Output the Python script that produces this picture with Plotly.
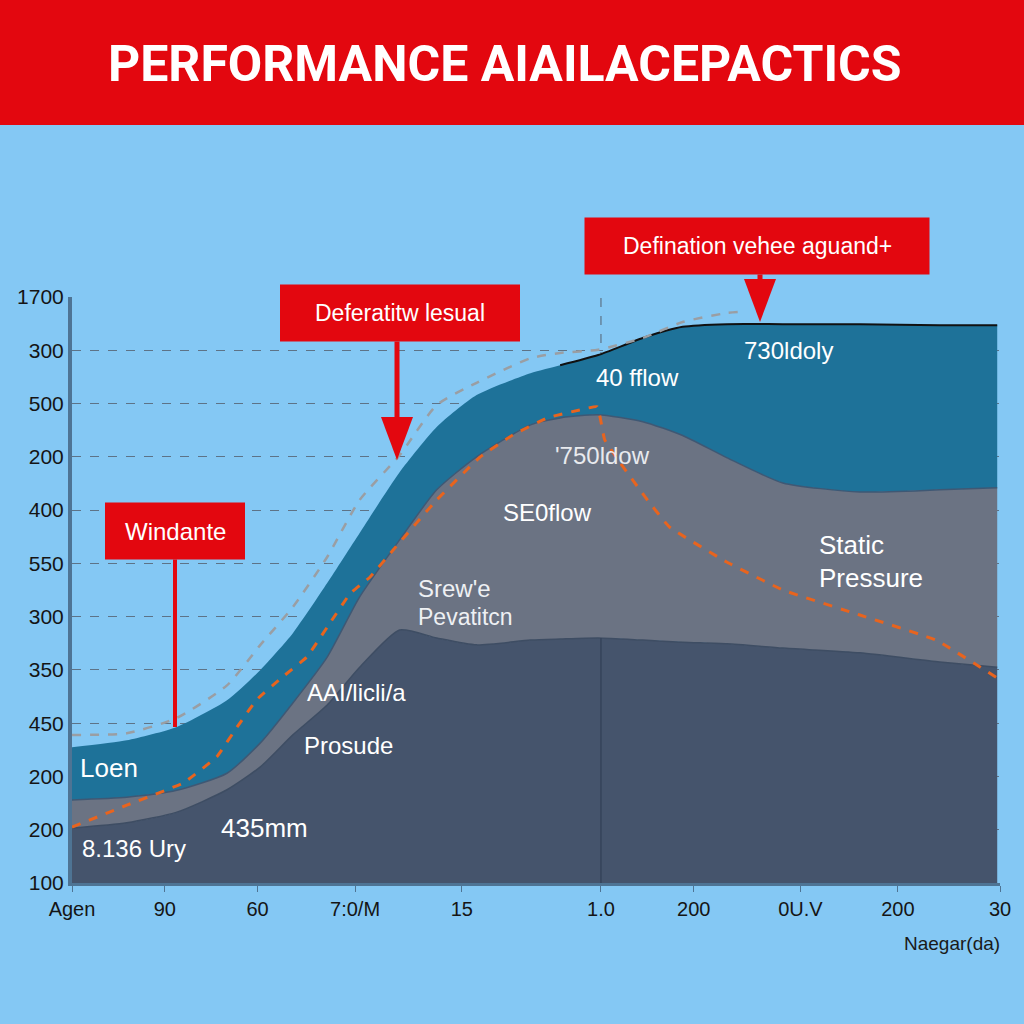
import plotly.graph_objects as go

# ---------------- data (axis units) ----------------
y_tick_pos = [0, 1, 2, 3, 4, 5, 6, 7, 8, 9, 10, 11]
y_tick_text = ["100", "200", "200", "450", "350", "300", "550", "400", "200", "500", "300", "1700"]

x_tick_pos = [0, 1.0, 2.0, 3.05, 4.2, 5.7, 6.7, 7.85, 8.9, 10]
x_tick_text = ["Agen", "90", "60", "7:0/M", "15", "1.0", "200", "0U.V", "200", "30"]

x_area = [0, 0.59, 1.13, 1.67, 2.03, 2.38, 2.75, 3.10, 3.53, 3.93, 4.36,
          4.94, 5.26, 5.67, 6.15, 6.58, 7.06, 7.66, 8.49, 9.35, 9.97]
navy_top = [1.03, 1.13, 1.33, 1.75, 2.18, 2.78, 3.34, 4.05, 4.75, 4.60, 4.47,
            4.56, 4.58, 4.60, 4.56, 4.52, 4.49, 4.41, 4.32, 4.15, 4.05]
gray_top = [1.56, 1.61, 1.74, 2.06, 2.63, 3.38, 4.24, 5.37, 6.44, 7.38, 8.00,
            8.60, 8.73, 8.79, 8.66, 8.40, 7.98, 7.51, 7.34, 7.38, 7.42]
teal_top = [2.55, 2.68, 2.93, 3.43, 4.00, 4.69, 5.63, 6.57, 7.71, 8.56, 9.16,
            9.57, 9.72, 9.91, 10.23, 10.44, 10.49, 10.49, 10.49, 10.47, 10.47]

x_gray_dash = [0, 0.59, 1.13, 1.67, 2.03, 2.38, 2.75, 3.10, 3.53, 3.93, 4.36,
               4.94, 5.26, 5.67, 6.15, 6.58, 7.06, 7.2]
gray_dash = [2.78, 2.81, 3.10, 3.71, 4.47, 5.18, 6.12, 7.19, 8.03, 8.97, 9.39,
             9.85, 9.95, 10.01, 10.23, 10.53, 10.70, 10.72]

x_orange = [0, 0.59, 1.20, 1.56, 1.78, 1.99, 2.27, 2.53, 2.78, 3.00, 3.21, 3.46,
            3.93, 4.40, 4.75, 5.12, 5.47, 5.66, 5.74, 5.91, 6.20, 6.44, 7.05,
            7.66, 8.49, 9.31, 9.97]
orange = [1.05, 1.46, 1.88, 2.37, 2.93, 3.44, 3.87, 4.24, 4.88, 5.44, 5.74, 6.25,
          7.19, 8.00, 8.41, 8.73, 8.88, 8.94, 8.32, 7.88, 7.19, 6.68, 6.03,
          5.50, 5.03, 4.56, 3.85]

# ---------------- styling ----------------
BG = "#84C8F4"
RED = "#E3070F"
NAVY = "#45546C"
GRAY = "#6B7383"
TEAL = "#1E7299"
ORANGE = "#E8641E"
FONT = "Liberation Sans, Arial, sans-serif"

L, R, T, B = 72, 1000, 297, 883   # plot area in pixels


def pxx(p):
    return (p - L) / (R - L)


def pxy(p):
    return (B - p) / (B - T)


fig = go.Figure()

fig.add_trace(go.Scatter(x=x_area, y=navy_top, mode="lines", line=dict(width=0, shape="spline", smoothing=0.6),
                         fill="tozeroy", fillcolor=NAVY, hoverinfo="skip"))
fig.add_trace(go.Scatter(x=x_area, y=gray_top, mode="lines", line=dict(width=0, shape="spline", smoothing=0.6),
                         fill="tonexty", fillcolor=GRAY, hoverinfo="skip"))
fig.add_trace(go.Scatter(x=x_area, y=teal_top, mode="lines", line=dict(width=0, shape="spline", smoothing=0.6),
                         fill="tonexty", fillcolor=TEAL, hoverinfo="skip"))
# thin outline between layers
fig.add_trace(go.Scatter(x=x_area, y=navy_top, mode="lines",
                         line=dict(width=1.5, color="#3E4D63", shape="spline", smoothing=0.6), hoverinfo="skip"))
fig.add_trace(go.Scatter(x=x_area, y=gray_top, mode="lines",
                         line=dict(width=1.5, color="#3F5874", shape="spline", smoothing=0.6), hoverinfo="skip"))
# black top outline on the right part
k0 = 12
fig.add_trace(go.Scatter(x=x_area[k0:], y=teal_top[k0:], mode="lines",
                         line=dict(width=2, color="#111111", shape="spline", smoothing=0.6), hoverinfo="skip"))
# dashed lines
fig.add_trace(go.Scatter(x=x_gray_dash, y=gray_dash, mode="lines",
                         line=dict(width=2.5, color="#9A9EA3", dash="dash", shape="spline", smoothing=0.6),
                         hoverinfo="skip"))
fig.add_trace(go.Scatter(x=x_orange, y=orange, mode="lines",
                         line=dict(width=3, color=ORANGE, dash="dash", shape="spline", smoothing=0.3),
                         hoverinfo="skip"))

shapes = []
# title bar
shapes.append(dict(type="rect", xref="paper", yref="paper", x0=pxx(0), x1=pxx(1024), y0=pxy(125), y1=pxy(0),
                   fillcolor=RED, line=dict(width=0), layer="above"))
# vertical divider at "1.0"
xd = x_tick_pos[5]
shapes.append(dict(type="line", xref="x", yref="y", x0=xd, x1=xd, y0=0, y1=navy_top[13],
                   line=dict(color="#35445A", width=1.5), layer="above"))
shapes.append(dict(type="line", xref="x", yref="paper", x0=xd, x1=xd, y0=0, y1=1,
                   line=dict(color="#5D7387", width=1.2, dash="dash"), layer="below"))


def callout(cx, cy, w, h, text, size, line_to, arrow=True, ax=None):
    ax = cx if ax is None else ax
    top_line = cy + h / 2
    tip = line_to
    if arrow:
        head_top = tip - 43
        shapes.append(dict(type="line", xref="paper", yref="paper", x0=pxx(ax), x1=pxx(ax),
                           y0=pxy(top_line), y1=pxy(head_top), line=dict(color=RED, width=5), layer="above"))
        path = "M {:.5f} {:.5f} L {:.5f} {:.5f} L {:.5f} {:.5f} Z".format(
            pxx(ax - 16), pxy(head_top), pxx(ax + 16), pxy(head_top), pxx(ax), pxy(tip))
        shapes.append(dict(type="path", xref="paper", yref="paper", path=path, fillcolor=RED,
                           line=dict(width=0), layer="above"))
    else:
        shapes.append(dict(type="line", xref="paper", yref="paper", x0=pxx(ax), x1=pxx(ax),
                           y0=pxy(top_line), y1=pxy(tip), line=dict(color=RED, width=4), layer="above"))
    path = "M {:.5f} {:.5f} L {:.5f} {:.5f} L {:.5f} {:.5f} L {:.5f} {:.5f} Z".format(
        pxx(cx - w / 2), pxy(cy - h / 2), pxx(cx + w / 2), pxy(cy - h / 2),
        pxx(cx + w / 2), pxy(cy + h / 2), pxx(cx - w / 2), pxy(cy + h / 2))
    shapes.append(dict(type="path", xref="paper", yref="paper", path=path, fillcolor=RED,
                       line=dict(width=0), layer="above"))
    return dict(x=pxx(cx), y=pxy(cy), xref="paper", yref="paper", text=text, showarrow=False,
                font=dict(family=FONT, size=size, color="white"), xanchor="center", yanchor="middle")


annotations = []
annotations.append(callout(757, 246, 345, 57, "Defination vehee aguand+", 23, 322, True, 760))
annotations.append(callout(400, 313, 240, 57, "Deferatitw lesual", 23, 460, True, 397))
annotations.append(callout(175, 531, 140, 57, "Windante", 24, 727, False, 175))

# title
annotations.append(dict(x=pxx(505), y=pxy(64), xref="paper", yref="paper", text="<b>PERFORMANCE AIAILACEPACTICS</b>",
                        showarrow=False, font=dict(family="Roboto, Arial, sans-serif", size=50, color="white"),
                        xanchor="center", yanchor="middle"))

labels = [
    (788, 350, "730ldoly", 24, "white", "center"),
    (637, 377, "40 fflow", 24, "white", "center"),
    (602, 455, "'750ldow", 24, "#E8EAEE", "center"),
    (547, 512, "SE0flow", 24, "white", "center"),
    (817, 545, "Static", 26, "white", "left"),
    (817, 578, "Pressure", 26, "white", "left"),
    (416, 588, "Srew'e", 24, "#EEF0F3", "left"),
    (416, 617, "Pevatitcn", 23, "#EEF0F3", "left"),
    (305, 692, "AAI/licli/a", 24, "white", "left"),
    (302, 745, "Prosude", 24, "white", "left"),
    (78, 768, "Loen", 26, "white", "left"),
    (219, 828, "435mm", 26, "white", "left"),
    (80, 848, "8.136 Ury", 24, "white", "left"),
    (1002, 943, "Naegar(da)", 19, "#1A1A1A", "right"),
]
for (lx, ly, txt, sz, col, anc) in labels:
    annotations.append(dict(x=pxx(lx), y=pxy(ly), xref="paper", yref="paper", text=txt, showarrow=False,
                            font=dict(family=FONT, size=sz, color=col), xanchor=anc, yanchor="middle"))

fig.update_layout(
    width=1024, height=1024,
    margin=dict(l=L, r=1024 - R, t=T, b=1024 - B),
    paper_bgcolor=BG, plot_bgcolor=BG,
    showlegend=False,
    shapes=shapes, annotations=annotations,
    xaxis=dict(range=[0, 10], tickmode="array", tickvals=x_tick_pos, ticktext=x_tick_text,
               showgrid=False, zeroline=False, showline=True, linecolor="#4E7494", linewidth=3,
               ticks="outside", ticklen=6, tickcolor="#4E7494",
               tickfont=dict(family=FONT, size=20, color="#151515")),
    yaxis=dict(range=[0, 11], tickmode="array", tickvals=y_tick_pos, ticktext=y_tick_text,
               showgrid=True, gridcolor="#5D7387", gridwidth=1, griddash="dash", zeroline=False,
               showline=True, linecolor="#4E7494", linewidth=4, ticks="",
               tickfont=dict(family=FONT, size=21, color="#151515")),
)

fig.write_html("out.html", config={"displayModeBar": False},
               post_script="document.body.style.margin='0';document.body.style.padding='0';document.body.style.background='" + BG + "';")
